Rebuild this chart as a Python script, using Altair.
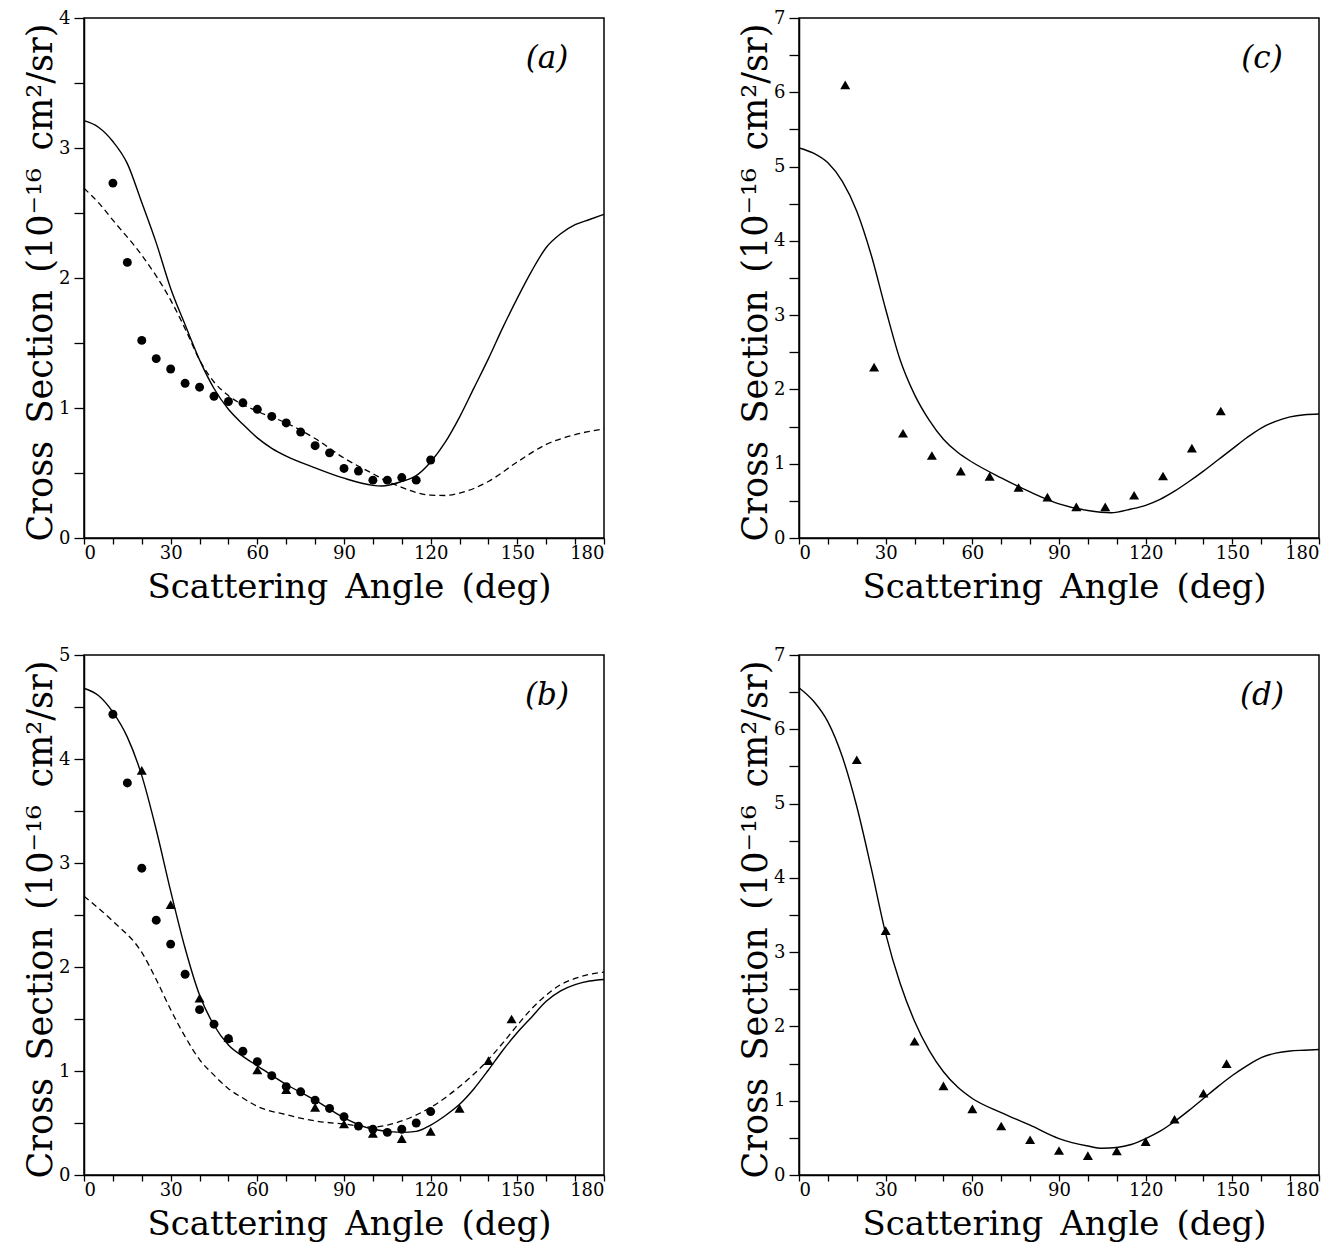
import altair as alt
import pandas as pd

FONT = "DejaVu Serif"

# ---------------- Panel (a) ----------------
a_solid_x = [0, 5, 10, 15, 20, 25, 30, 35, 40, 45, 50, 55, 60, 65, 70, 80, 90, 100, 103, 110, 115, 120,
             125, 130, 135, 140, 145, 150, 155, 160, 165, 170, 175, 180]
a_solid_y = [3.21, 3.16, 3.05, 2.88, 2.58, 2.27, 1.92, 1.64, 1.37, 1.15, 0.99, 0.875, 0.77, 0.69, 0.63,
             0.54, 0.46, 0.405, 0.40, 0.435, 0.48, 0.585, 0.735, 0.93, 1.155, 1.38, 1.62, 1.845, 2.055,
             2.235, 2.34, 2.41, 2.45, 2.49]
a_dash_x = [0, 5, 10, 20, 30, 35, 40, 45, 50, 60, 70, 80, 90, 100, 105, 110, 115, 120, 125, 130, 140,
            150, 160, 170, 180]
a_dash_y = [2.69, 2.58, 2.445, 2.175, 1.83, 1.61, 1.37, 1.20, 1.095, 0.975, 0.885, 0.765, 0.615,
            0.495, 0.435, 0.39, 0.35, 0.33, 0.327, 0.345, 0.435, 0.585, 0.72, 0.795, 0.84]
a_circ_x = [10, 15, 20, 25, 30, 35, 40, 45, 50, 55, 60, 65, 70, 75, 80, 85, 90, 95, 100, 105, 110, 115, 120]
a_circ_y = [2.73, 2.12, 1.52, 1.38, 1.30, 1.19, 1.16, 1.09, 1.05, 1.04, 0.99, 0.935, 0.885, 0.815, 0.71,
            0.655, 0.535, 0.515, 0.445, 0.445, 0.465, 0.445, 0.60]

# ---------------- Panel (b) ----------------
b_solid_x = [0, 5, 10, 15, 20, 25, 30, 35, 40, 45, 50, 55, 60, 70, 80, 90, 100, 110, 115, 120, 125, 130,
             135, 140, 145, 150, 155, 160, 165, 170, 175, 180]
b_solid_y = [4.68, 4.61, 4.45, 4.21, 3.84, 3.32, 2.73, 2.18, 1.73, 1.44, 1.25, 1.14, 1.05, 0.87, 0.72,
             0.55, 0.44, 0.41, 0.42, 0.48, 0.57, 0.68, 0.83, 1.01, 1.20, 1.37, 1.52, 1.67, 1.77, 1.83,
             1.865, 1.88]
b_dash_x = [0, 10, 20, 25, 30, 35, 40, 45, 50, 55, 60, 70, 80, 90, 100, 105, 110, 120, 130, 140, 145,
            150, 155, 160, 165, 170, 175, 180]
b_dash_y = [2.68, 2.44, 2.14, 1.88, 1.59, 1.33, 1.11, 0.96, 0.83, 0.74, 0.66, 0.58, 0.52, 0.49, 0.46,
            0.48, 0.52, 0.65, 0.85, 1.11, 1.27, 1.44, 1.60, 1.73, 1.83, 1.89, 1.93, 1.95]
b_circ_x = [10, 15, 20, 25, 30, 35, 40, 45, 50, 55, 60, 65, 70, 75, 80, 85, 90, 95, 100, 105, 110, 115, 120]
b_circ_y = [4.43, 3.77, 2.95, 2.45, 2.22, 1.93, 1.59, 1.45, 1.31, 1.19, 1.09, 0.955, 0.85, 0.80, 0.72,
            0.64, 0.56, 0.47, 0.44, 0.41, 0.44, 0.50, 0.61]
b_tri_x = [20, 30, 40, 50, 60, 70, 80, 90, 100, 110, 120, 130, 140, 148]
b_tri_y = [3.89, 2.60, 1.70, 1.32, 1.01, 0.82, 0.65, 0.49, 0.40, 0.35, 0.42, 0.64, 1.10, 1.50]

# ---------------- Panel (c) ----------------
c_solid_x = [0, 5, 10, 15, 20, 25, 30, 35, 40, 45, 50, 55, 60, 70, 80, 90, 100, 108, 115, 120, 125, 130,
             135, 140, 145, 150, 155, 160, 165, 170, 175, 180]
c_solid_y = [5.25, 5.18, 5.05, 4.80, 4.40, 3.81, 3.08, 2.40, 1.93, 1.59, 1.33, 1.15, 1.02, 0.81, 0.62,
             0.46, 0.37, 0.34, 0.39, 0.44, 0.52, 0.63, 0.76, 0.90, 1.05, 1.20, 1.35, 1.48, 1.57, 1.63,
             1.66, 1.67]
c_tri_x = [16, 26, 36, 46, 56, 66, 76, 86, 96, 106, 116, 126, 136, 146]
c_tri_y = [6.10, 2.30, 1.41, 1.11, 0.90, 0.83, 0.68, 0.55, 0.42, 0.42, 0.575, 0.835, 1.21, 1.71]

# ---------------- Panel (d) ----------------
d_solid_x = [0, 5, 10, 15, 20, 25, 30, 35, 40, 45, 50, 55, 60, 70, 80, 90, 100, 105, 110, 115, 120, 125,
             130, 135, 140, 145, 150, 155, 160, 165, 170, 175, 180]
d_solid_y = [6.56, 6.38, 6.10, 5.63, 4.96, 4.13, 3.25, 2.58, 2.07, 1.68, 1.39, 1.18, 1.03, 0.84, 0.67,
             0.49, 0.39, 0.36, 0.37, 0.41, 0.49, 0.59, 0.72, 0.87, 1.03, 1.19, 1.34, 1.47, 1.58, 1.64,
             1.67, 1.68, 1.69]
d_tri_x = [20, 30, 40, 50, 60, 70, 80, 90, 100, 110, 120, 130, 140, 148]
d_tri_y = [5.59, 3.29, 1.80, 1.20, 0.89, 0.66, 0.475, 0.33, 0.26, 0.325, 0.45, 0.75, 1.10, 1.50]

X_TICKS = list(range(0, 181, 10))
X_TITLE = "Scattering\u2002Angle\u2002(deg)"
Y_TITLE = "Cross\u2002Section\u2002(10\u207b\u00b9\u2076\u2002cm\u00b2/sr)"

W, H = 520, 520


def make_panel(ymax, label, solid, dash=None, circ=None, tri=None):
    yticks = [i * 0.5 for i in range(int(ymax * 2) + 1)]
    x_axis = alt.Axis(
        values=X_TICKS,
        labelExpr="datum.value % 30 == 0 ? format(datum.value, 'd') : ''",
        title=X_TITLE, titleX=W / 2 + 5, titleY=59, titleBaseline="alphabetic",
        titleAlign="center",
    )
    y_axis = alt.Axis(
        values=yticks,
        labelExpr="datum.value % 1 == 0 ? format(datum.value, 'd') : ''",
        title=Y_TITLE, titleX=-33, titleY=H / 2 + 4, titleAngle=270,
        titleBaseline="alphabetic", titleAlign="center",
    )
    xs = alt.X("angle:Q", scale=alt.Scale(domain=[0, 180], nice=False, zero=False), axis=x_axis)
    ys = alt.Y("cs:Q", scale=alt.Scale(domain=[0, ymax], nice=False, zero=True), axis=y_axis)

    layers = []
    sx, sy = solid
    layers.append(
        alt.Chart(pd.DataFrame({"angle": sx, "cs": sy}))
        .mark_line(color="black", strokeWidth=1.4, interpolate="monotone")
        .encode(x=xs, y=ys)
    )
    if dash is not None:
        dx, dy = dash
        layers.append(
            alt.Chart(pd.DataFrame({"angle": dx, "cs": dy}))
            .mark_line(color="black", strokeWidth=1.3, strokeDash=[6, 4], interpolate="monotone")
            .encode(x=xs, y=ys)
        )
    if circ is not None:
        cx, cy = circ
        layers.append(
            alt.Chart(pd.DataFrame({"angle": cx, "cs": cy}))
            .mark_point(shape="circle", filled=True, color="black", size=80, opacity=1)
            .encode(x=xs, y=ys)
        )
    if tri is not None:
        tx, ty = tri
        layers.append(
            alt.Chart(pd.DataFrame({"angle": tx, "cs": ty}))
            .mark_point(shape="triangle-up", filled=True, color="black", size=100, opacity=1)
            .encode(x=xs, y=ys)
        )
    layers.append(
        alt.Chart(pd.DataFrame({"t": [label]}))
        .mark_text(font=FONT, fontSize=31, fontStyle="italic", color="black", align="center",
                   baseline="middle")
        .encode(text="t:N", x=alt.value(463), y=alt.value(41))
    )
    return alt.layer(*layers).properties(width=W, height=H)


pa = make_panel(4, "(a)", (a_solid_x, a_solid_y), dash=(a_dash_x, a_dash_y), circ=(a_circ_x, a_circ_y))
pc = make_panel(7, "(c)", (c_solid_x, c_solid_y), tri=(c_tri_x, c_tri_y))
pb = make_panel(5, "(b)", (b_solid_x, b_solid_y), dash=(b_dash_x, b_dash_y),
                circ=(b_circ_x, b_circ_y), tri=(b_tri_x, b_tri_y))
pd_ = make_panel(7, "(d)", (d_solid_x, d_solid_y), tri=(d_tri_x, d_tri_y))

chart = alt.concat(
    pa, pc, pb, pd_,
    columns=2,
    spacing={"row": 117, "column": 195},
    bounds="flush",
).properties(
    padding={"left": 14, "top": 0, "right": 0, "bottom": 0}
).configure(
    background="white",
).configure_view(
    stroke="black", strokeWidth=1.5,
).configure_axis(
    grid=False,
    domainColor="black", domainWidth=1.5,
    tickColor="black", tickWidth=1.3,
    labelFont=FONT, labelFontSize=18, labelColor="black",
    titleFont=FONT, titleFontSize=34, titleFontWeight="normal", titleColor="black",
).configure_axisX(
    tickSize=6, labelPadding=0,
).configure_axisY(
    tickSize=10, labelPadding=4, titleFontSize=35,
)

chart.save("out.html", embed_options={"renderer": "svg", "actions": False})
